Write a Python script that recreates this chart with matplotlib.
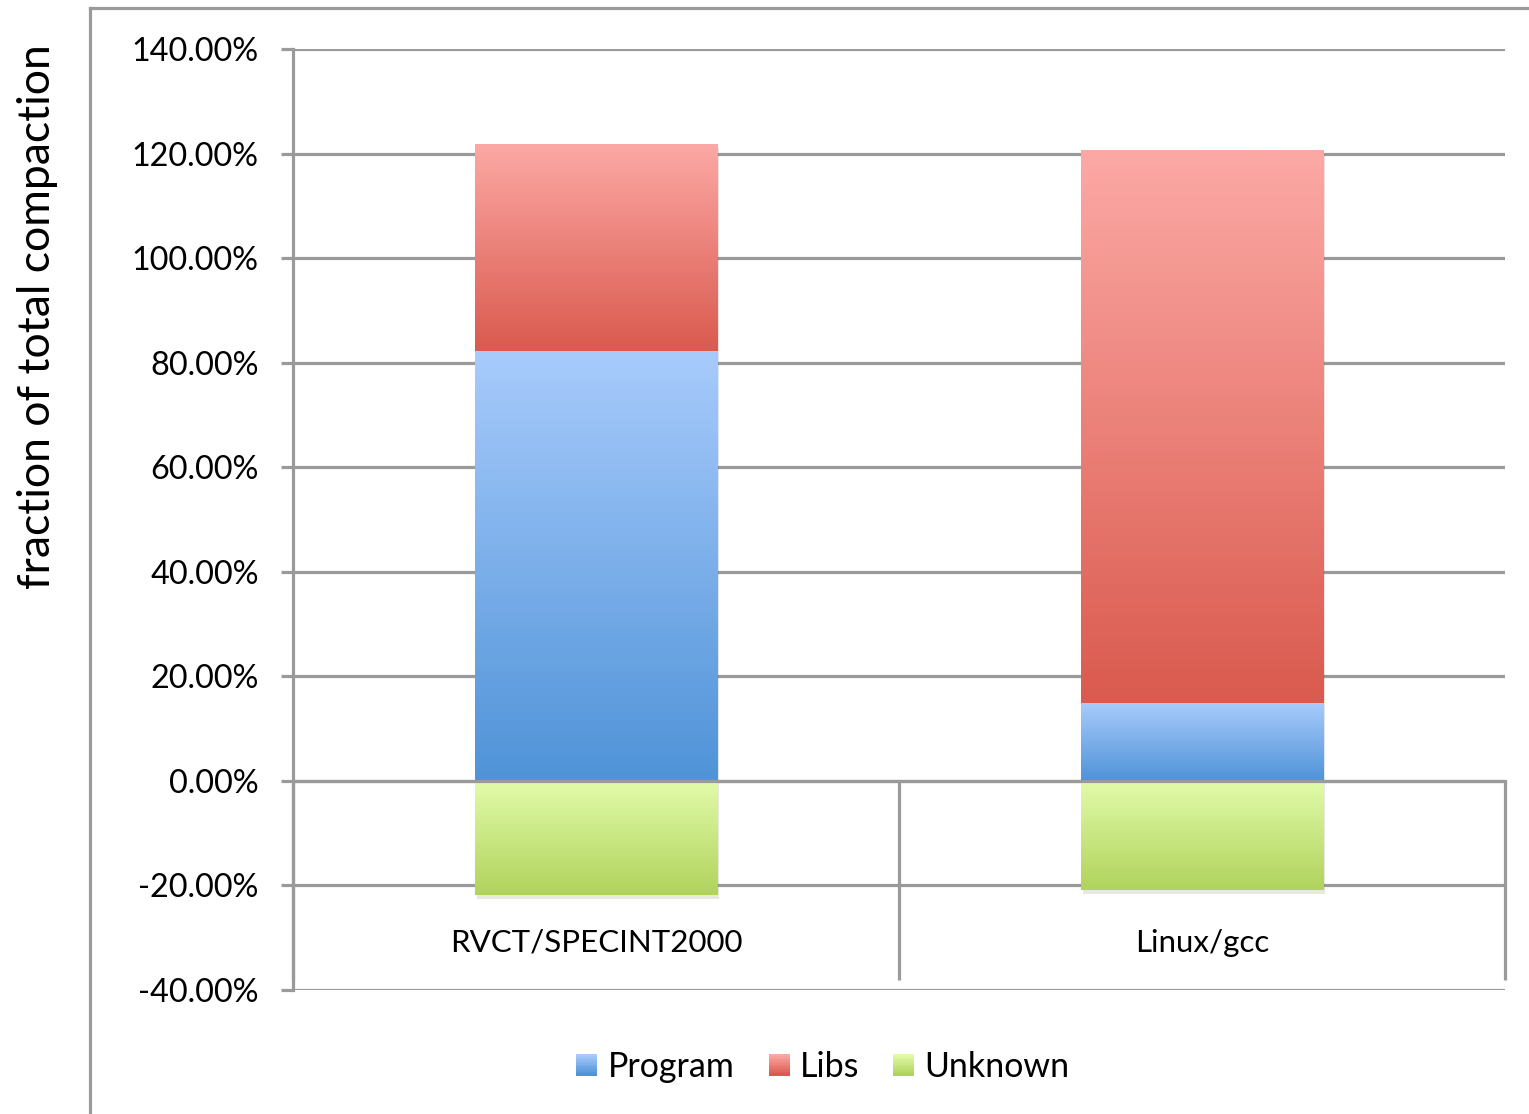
import numpy as np
import matplotlib
matplotlib.use('Agg')
import matplotlib.pyplot as plt
import matplotlib.patheffects as pe
from matplotlib.lines import Line2D
from matplotlib.patches import Rectangle
from matplotlib.legend_handler import HandlerBase
from matplotlib.ticker import FuncFormatter, FixedLocator

plt.rcParams['font.family'] = ['Lato', 'DejaVu Sans']

# data (percent of total compaction)
categories = ['RVCT/SPECINT2000', 'Linux/gcc']
program = [82.2, 14.9]
libs = [39.6, 105.7]
unknown = [-21.8, -20.8]
series_names = ['Program', 'Libs', 'Unknown']

# gradient colours, top -> bottom
grad = {
    'Program': ('#a8cbfc', '#4f93d8'),
    'Libs': ('#fca9a5', '#da5a4e'),
    'Unknown': ('#e2fbaa', '#b0d35c'),
}
GRID = '#9a9a9a'


def ramp(c1, c2, n=256):
    a = np.array(matplotlib.colors.to_rgb(c1))
    b = np.array(matplotlib.colors.to_rgb(c2))
    t = np.linspace(0, 1, n)[:, None]
    return (a + (b - a) * t)[:, None, :]


fig = plt.figure(figsize=(15.29, 11.14), dpi=100)
ax = fig.add_axes([293 / 1529, 1 - 990 / 1114, 1212 / 1529, 941 / 1114])

x = np.arange(len(categories))
width = 0.40
shadow = [pe.SimplePatchShadow(offset=(1.5, -3), alpha=0.14, rho=0.5), pe.Normal()]

layers = [
    ('Program', program, 0),
    ('Libs', libs, program),
    ('Unknown', unknown, 0),
]
for name, vals, bottom in layers:
    bars = ax.bar(x, vals, width, bottom=bottom, color=grad[name][1],
                  linewidth=0, zorder=3, path_effects=shadow)
    for p in bars.patches:
        bx, by = p.get_x(), p.get_y()
        bw, bh = p.get_width(), p.get_height()
        y0, y1 = min(by, by + bh), max(by, by + bh)
        im = ax.imshow(ramp(*grad[name]), extent=[bx, bx + bw, y0, y1],
                       origin='upper', aspect='auto', zorder=4,
                       interpolation='bilinear')
        im.set_clip_path(p)

ax.set_xlim(-0.5, 1.5)
ax.set_ylim(-40, 140)

# y axis
ax.yaxis.set_major_locator(FixedLocator(np.arange(-40, 141, 20)))
ax.yaxis.set_major_formatter(FuncFormatter(lambda v, _: f'{v:.2f}%'))
ax.yaxis.grid(True, color=GRID, linewidth=2.3, zorder=1)
ax.set_axisbelow(True)
ax.tick_params(axis='y', direction='out', length=8.6, width=2.3, color=GRID,
               pad=16, labelsize=23.3)

# category axis sitting on zero
for s in ['top', 'right']:
    ax.spines[s].set_visible(False)
ax.spines['left'].set_color(GRID)
ax.spines['left'].set_linewidth(2.3)
ax.spines['bottom'].set_position(('data', 0))
ax.spines['bottom'].set_color(GRID)
ax.spines['bottom'].set_linewidth(2.3)
ax.spines['bottom'].set_zorder(5)
ax.set_xticks(x)
ax.set_xticklabels([])
ax.set_xticks([-0.5, 0.5, 1.5], minor=True)
ax.tick_params(axis='x', which='major', length=0)
ax.tick_params(axis='x', which='minor', direction='out', length=143,
               width=2.3, color=GRID)
for i, c in enumerate(categories):
    ax.text(i, -31.0, c, ha='center', va='center', fontsize=22.5)

fig.text(38 / 1529, 1 - 317 / 1114, 'fraction of total compaction',
         rotation=90, ha='center', va='center', fontsize=32)

# outer chart border (left and top)
fig.add_artist(Line2D([90 / 1529, 90 / 1529], [0, 1 - 8 / 1114],
                      transform=fig.transFigure, color=GRID, linewidth=2.3))
fig.add_artist(Line2D([90 / 1529, 1], [1 - 8 / 1114, 1 - 8 / 1114],
                      transform=fig.transFigure, color=GRID, linewidth=2.3))


class GradHandler(HandlerBase):
    def create_artists(self, legend, orig, xd, yd, w, h, fs, trans):
        c1, c2 = grad[orig.get_label()]
        cols = ramp(c1, c2, 12)[:, 0, :]
        side = h * 0.88
        x0 = xd + (w - side) / 2
        y0 = yd + (h - side) / 2
        arts = []
        for k, col in enumerate(cols):
            r = Rectangle((x0, y0 + side * (11 - k) / 12), side, side / 12 + 0.3,
                          facecolor=col, edgecolor='none', transform=trans)
            arts.append(r)
        return arts


handles = [Rectangle((0, 0), 1, 1, label=n) for n in series_names]
fig.legend(handles, series_names, loc='center', ncol=3, frameon=False,
           bbox_to_anchor=(823 / 1529, 1 - 1067 / 1114), fontsize=24.5,
           handler_map={Rectangle: GradHandler()}, handlelength=0.62,
           handletextpad=0.3, columnspacing=1.0)

fig.savefig('out.png', dpi=100, facecolor='white')
